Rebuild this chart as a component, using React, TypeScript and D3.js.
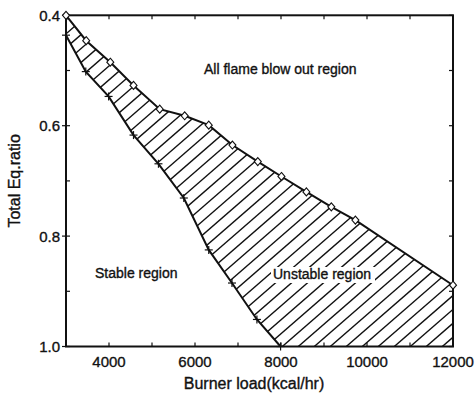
import React from "react";
import * as d3 from "d3";

// Burner load (kcal/hr) vs total equivalence ratio for the two stability limits
const blowoutLoad = [3000, 3470, 4030, 4570, 5180, 5760, 6320, 6870, 7460, 8010, 8590, 9170, 9730, 12000];
const blowoutRatio = [0.400, 0.446, 0.485, 0.527, 0.570, 0.582, 0.599, 0.635, 0.665, 0.692, 0.720, 0.747, 0.771, 0.889];
const stableLoad = [3000, 3460, 3990, 4570, 5150, 5740, 6320, 6860, 7440, 7990];
const stableRatio = [0.436, 0.502, 0.547, 0.617, 0.669, 0.731, 0.825, 0.885, 0.951, 1.0];

const xMajorTicks = [4000, 6000, 8000, 10000, 12000];
const xMinorTicks = [3000, 5000, 7000, 9000, 11000];
const yMajorTicks = [0.4, 0.6, 0.8, 1.0];
const yMinorTicks = [0.5, 0.7, 0.9];

const W = 476;
const H = 396;
const left = 66;
const right = 453;
const top = 15.3;
const bottom = 346.5;

const FONT = "'Liberation Sans', Arial, Helvetica, sans-serif";
const INK = "#111";
// slight outline so the lettering reads as heavy as the print
const textStyle = { stroke: INK, strokeWidth: 0.35 };

export default function App() {
  const x = d3.scaleLinear().domain([3000, 12000]).range([left, right]);
  const y = d3.scaleLinear().domain([0.4, 1.0]).range([top, bottom]);

  const upper: [number, number][] = blowoutLoad.map((v, i) => [v, blowoutRatio[i]]);
  const lower: [number, number][] = stableLoad.map((v, i) => [v, stableRatio[i]]);

  const line = d3
    .line<[number, number]>()
    .x((d) => x(d[0]))
    .y((d) => y(d[1]));

  // unstable band: blow-out limit, right edge, bottom edge, stable limit back
  const band: [number, number][] = [
    ...upper,
    [12000, 1.0],
    ...lower.slice().reverse(),
  ];
  const bandPath = line(band) + "Z";

  // diagonal hatching
  const ang = (41 * Math.PI) / 180;
  const step = 16;
  const len = 700;
  const hatch = d3.range(-40, 40).map((k) => {
    const x0 = left + 214 + k * step;
    return {
      x1: x0,
      y1: bottom + 2,
      x2: x0 + len * Math.cos(ang),
      y2: bottom + 2 - len * Math.sin(ang),
    };
  });

  const diamond = (cx: number, cy: number) =>
    `M${cx},${cy - 4}L${cx + 3.5},${cy}L${cx},${cy + 4}L${cx - 3.5},${cy}Z`;

  const regionText = (label: string, tx: number, ty: number, bg: boolean) => (
    <g>
      {bg && <rect x={tx - 2} y={ty - 12} width={104} height={16} fill="#fff" />}
      <text x={tx} y={ty} fontSize={14} fontFamily={FONT} fill={INK} style={textStyle}>
        {label}
      </text>
    </g>
  );

  return (
    <svg
      width={W}
      height={H}
      style={{ position: "absolute", left: 0, top: 0, background: "#fff" }}
    >
      <defs>
        <clipPath id="bandClip">
          <path d={bandPath} />
        </clipPath>
      </defs>
      <rect x={0} y={0} width={W} height={H} fill="#fff" />

      <g clipPath="url(#bandClip)">
        {hatch.map((h, i) => (
          <line key={i} x1={h.x1} y1={h.y1} x2={h.x2} y2={h.y2} stroke={INK} strokeWidth={1.4} />
        ))}
      </g>

      {regionText("Unstable region", 273, 279, true)}
      {regionText("Stable region", 95, 278, false)}
      {regionText("All flame blow out region", 204, 74, false)}

      {/* frame */}
      <rect x={left} y={top} width={right - left} height={bottom - top} fill="none" stroke={INK} strokeWidth={2} />

      {/* ticks */}
      {[...xMajorTicks, ...xMinorTicks].map((t) => (
        <g key={"x" + t}>
          <line x1={x(t)} x2={x(t)} y1={bottom} y2={bottom - 4} stroke={INK} strokeWidth={1.2} />
          <line x1={x(t)} x2={x(t)} y1={top} y2={top + 4} stroke={INK} strokeWidth={1.2} />
        </g>
      ))}
      {[...yMajorTicks, ...yMinorTicks].map((t) => (
        <g key={"y" + t}>
          <line x1={left} x2={left + 4} y1={y(t)} y2={y(t)} stroke={INK} strokeWidth={1.2} />
          <line x1={right} x2={right - 4} y1={y(t)} y2={y(t)} stroke={INK} strokeWidth={1.2} />
        </g>
      ))}
      {yMajorTicks.map((t) => (
        <line key={"yo" + t} x1={left - 4} x2={left} y1={y(t)} y2={y(t)} stroke={INK} strokeWidth={1.2} />
      ))}

      {/* tick labels */}
      {xMajorTicks.map((t) => (
        <text key={"xl" + t} x={x(t)} y={367} textAnchor="middle" fontSize={15} fontFamily={FONT} fill={INK} style={textStyle}>
          {t}
        </text>
      ))}
      {yMajorTicks.map((t) => (
        <text
          key={"yl" + t}
          x={60}
          y={y(t)}
          dy="0.36em"
          textAnchor="end"
          fontSize={15}
          fontFamily={FONT}
          fill={INK}
          style={textStyle}
        >
          {d3.format(".1f")(t)}
        </text>
      ))}

      {/* axis titles */}
      <text x={254} y={389} textAnchor="middle" fontSize={16} fontFamily={FONT} fill={INK} style={textStyle}>
        Burner load(kcal/hr)
      </text>
      <text
        transform={`translate(20,${(top + bottom) / 2}) rotate(-90)`}
        textAnchor="middle"
        fontSize={16}
        fontFamily={FONT}
        fill={INK}
        style={textStyle}
      >
        Total Eq.ratio
      </text>

      {/* limit curves */}
      <path d={line(upper) ?? ""} fill="none" stroke={INK} strokeWidth={2} />
      <path d={line(lower) ?? ""} fill="none" stroke={INK} strokeWidth={2} />

      {lower.map((d, i) => (
        <g key={"p" + i} stroke={INK} strokeWidth={1.2}>
          <line x1={x(d[0]) - 4} x2={x(d[0]) + 4} y1={y(d[1])} y2={y(d[1])} />
          <line x1={x(d[0])} x2={x(d[0])} y1={y(d[1]) - 4} y2={y(d[1]) + 4} />
        </g>
      ))}
      {upper.map((d, i) => (
        <path key={"d" + i} d={diamond(x(d[0]), y(d[1]))} fill="#fff" stroke={INK} strokeWidth={1.1} />
      ))}
    </svg>
  );
}
